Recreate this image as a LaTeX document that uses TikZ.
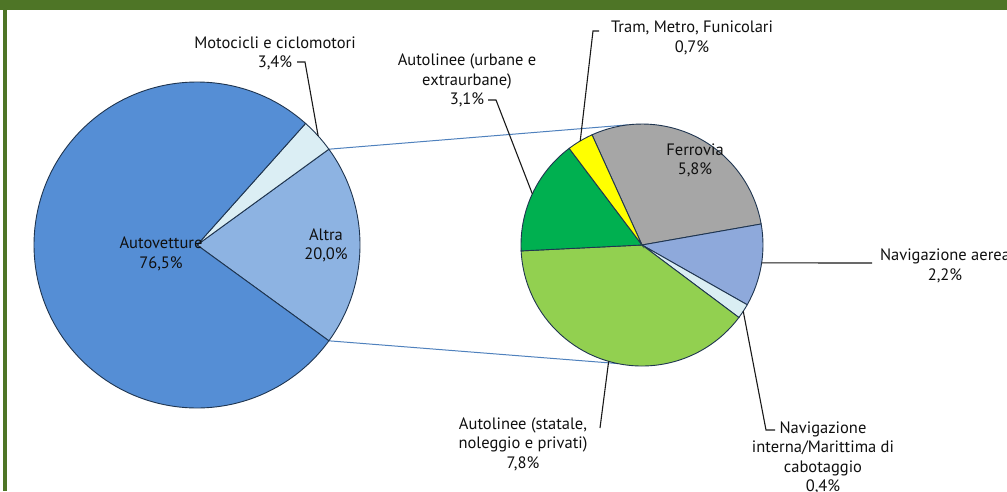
\documentclass[tikz,border=0pt]{standalone}
\usepackage{fontspec}
\setmainfont{PT Sans}
\definecolor{frameg}{HTML}{4E7526}
\definecolor{autoc}{HTML}{558ED5}
\definecolor{altrac}{HTML}{8DB3E2}
\definecolor{motoc}{HTML}{DBEEF4}
\definecolor{ferc}{HTML}{A6A6A6}
\definecolor{aerc}{HTML}{8EA9DB}
\definecolor{navc}{HTML}{DAEEF3}
\definecolor{statc}{HTML}{92D050}
\definecolor{urbc}{HTML}{00B050}
\definecolor{tramc}{HTML}{FFFF00}
\definecolor{edgec}{HTML}{1F3550}
\definecolor{linkc}{HTML}{4F81BD}
\definecolor{txtc}{HTML}{101010}
\tikzset{
  lbl/.style={align=center, text=txtc, inner sep=0pt, font=\fontsize{16.5}{19.5}\selectfont},
  leader/.style={draw=black!90, line width=1.1pt},
  linkline/.style={draw=linkc, line width=1pt},
  wedge/.style={draw=edgec, line width=0.9pt},
}
% \pieslice{center}{radius}{from visual angle}{to visual angle}{colour}
\newcommand{\pieslice}[5]{%
  \filldraw[wedge, fill=#5] (#1) -- ++(-#3:#2) arc[start angle=-#3, end angle=-#4, radius=#2] -- cycle;}
\begin{document}
\begin{tikzpicture}[x=1pt,y=-1pt]
\useasboundingbox (0,0) rectangle (1007,491);
\clip (0,0) rectangle (1007,491);
\fill[white] (0,0) rectangle (1007,491);
% frame
\fill[frameg] (0,0) rectangle (1007,10);
\fill[frameg] (2.5,0) rectangle (6.5,491);

\coordinate (L) at (197,245);
\coordinate (R) at (642,245);

% links between the two pies
\path (L) ++(-36:163) coordinate (ltop);
\path (L) ++(36:163) coordinate (lbot);
\path (R) ++(-97:121) coordinate (rtop);
\path (R) ++(101.5:121) coordinate (rbot);
\draw[linkline] (ltop) -- (rtop);
\draw[linkline] (lbot) -- (rbot);

% left pie
\pieslice{L}{163}{-36}{36}{altrac}
\pieslice{L}{163}{36}{48.24}{motoc}
\pieslice{L}{163}{48.24}{324}{autoc}

% right pie
\pieslice{R}{121}{10}{114.4}{ferc}
\pieslice{R}{121}{-29.6}{10}{aerc}
\pieslice{R}{121}{-36.8}{-29.6}{navc}
\pieslice{R}{121}{-177.2}{-36.8}{statc}
\pieslice{R}{121}{127}{182.8}{urbc}
\pieslice{R}{121}{114.4}{127}{tramc}

% labels
\node[lbl] (auto) at (161,254) {Autovetture\\76,5\%};
\node[lbl] (altra) at (326,245.5) {Altra\\20,0\%};
\node[lbl] (moto) at (275,53.5) {Motocicli e ciclomotori\\3,4\%};
\node[lbl] (tram) at (692,38) {Tram, Metro, Funicolari\\0,7\%};
\node[lbl] (urb) at (467,80.5) {Autolinee (urbane e\\extraurbane)\\3,1\%};
\node[lbl] (fer) at (695,160.5) {Ferrovia\\5,8\%};
\node[lbl] (aer) at (945,266) {Navigazione aerea\\2,2\%};
\node[lbl] (stat) at (523,444) {Autolinee (statale,\\noleggio e privati)\\7,8\%};
\node[lbl] (nav) at (823,458) {Navigazione\\interna/Marittima di\\cabotaggio\\0,4\%};

% leaders
\coordinate (m1) at (297,62);
\coordinate (m2) at (305,62);
\path (L) ++(-42:163) coordinate (m3);
\draw[leader] (m1) -- (m2) -- (m3);

\coordinate (t1) at (599,31);
\coordinate (t2) at (593,31);
\path (R) ++(-120.7:121) coordinate (t3);
\draw[leader] (t1) -- (t2) -- (t3);

\coordinate (u1) at (488,100);
\coordinate (u2) at (496,100);
\path (R) ++(-155:121) coordinate (u3);
\draw[leader] (u1) -- (u2) -- (u3);

\path (R) ++(8.5:121) coordinate (a1);
\coordinate (a2) at (872,263);
\draw[leader] (a1) -- (a2);

\coordinate (n1) at (775,430);
\coordinate (n2) at (766,430);
\path (R) ++(33.2:121) coordinate (n3);
\draw[leader] (n1) -- (n2) -- (n3);

\coordinate (s1) at (600,428);
\path (R) ++(106:121) coordinate (s2);
\draw[leader] (s1) -- (s2);
\end{tikzpicture}
\end{document}
